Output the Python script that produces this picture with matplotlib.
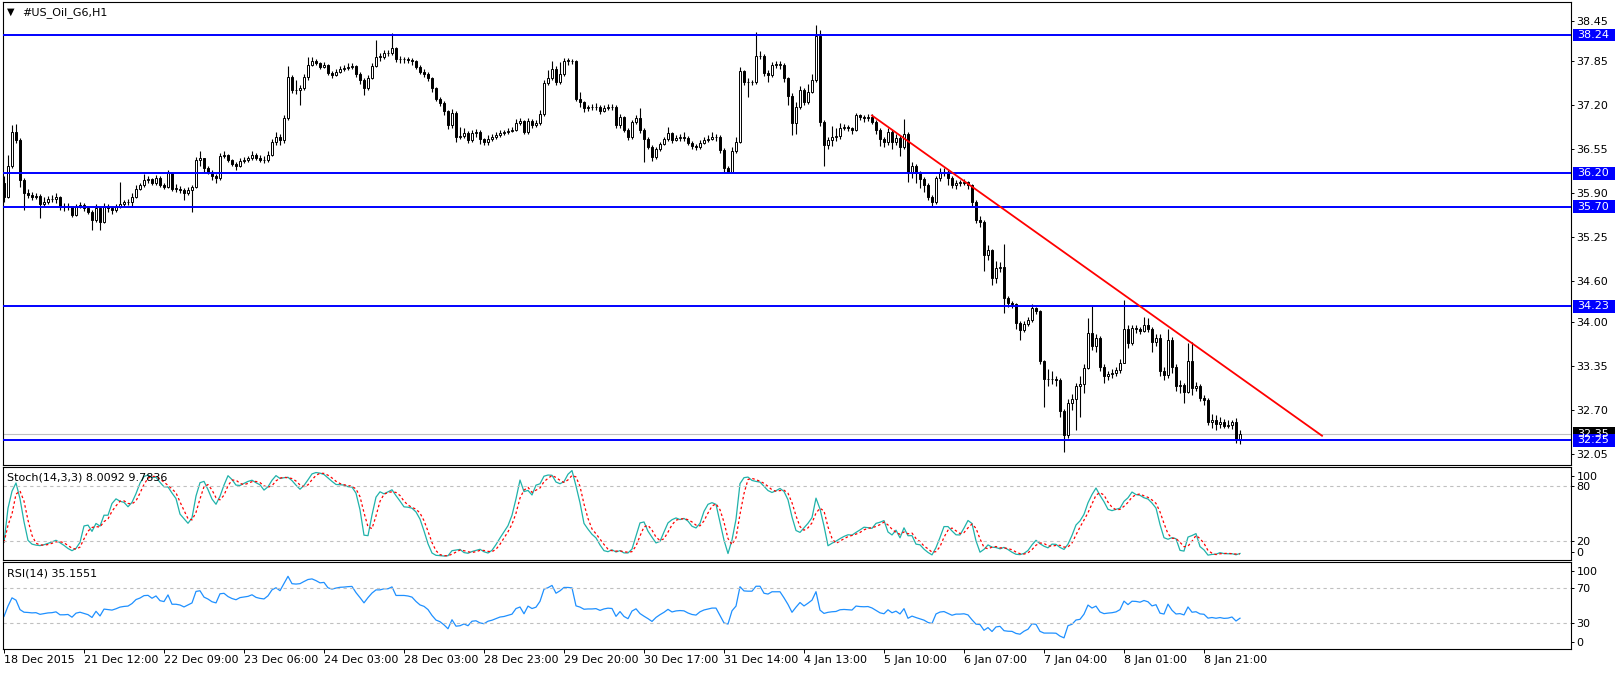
import numpy as np
import pandas as pd
import matplotlib
matplotlib.use('Agg')
import matplotlib.pyplot as plt
from matplotlib.patches import Rectangle
from matplotlib.transforms import blended_transform_factory

# ---- data (hourly bars) ----
first_open = 36.05
close = [
    35.85, 36.30, 36.81, 36.69, 36.10, 35.90, 35.88, 35.85, 35.86, 35.75,
    35.78, 35.81, 35.82, 35.85, 35.70, 35.70, 35.71, 35.58, 35.70, 35.73,
    35.68, 35.63, 35.51, 35.68, 35.48, 35.70, 35.68, 35.66, 35.70, 35.75,
    35.77, 35.78, 35.85, 35.97, 36.02, 36.10, 36.11, 36.05, 36.12, 36.02,
    36.00, 36.20, 35.97, 35.97, 35.95, 35.90, 35.95, 36.00, 36.39, 36.42,
    36.27, 36.22, 36.15, 36.12, 36.45, 36.47, 36.39, 36.34, 36.31, 36.38,
    36.40, 36.42, 36.47, 36.42, 36.40, 36.39, 36.47, 36.66, 36.74, 36.69,
    37.01, 37.62, 37.43, 37.42, 37.45, 37.62, 37.80, 37.86, 37.82, 37.77,
    37.80, 37.68, 37.65, 37.70, 37.74, 37.75, 37.77, 37.78, 37.67, 37.57,
    37.45, 37.61, 37.78, 37.92, 37.92, 37.97, 37.97, 38.05, 37.88, 37.88,
    37.88, 37.87, 37.85, 37.77, 37.70, 37.67, 37.60, 37.45, 37.30, 37.24,
    37.11, 36.91, 37.09, 36.74, 36.75, 36.79, 36.69, 36.79, 36.80, 36.70,
    36.66, 36.71, 36.73, 36.76, 36.79, 36.80, 36.82, 36.84, 36.94, 36.97,
    36.81, 36.97, 36.91, 36.94, 37.08, 37.53, 37.61, 37.74, 37.55, 37.67,
    37.86, 37.86, 37.85, 37.30, 37.25, 37.16, 37.17, 37.17, 37.18, 37.12,
    37.16, 37.18, 37.17, 36.91, 37.03, 36.84, 36.74, 36.95, 37.02, 36.83,
    36.71, 36.59, 36.44, 36.55, 36.63, 36.70, 36.79, 36.69, 36.72, 36.73,
    36.72, 36.65, 36.60, 36.58, 36.65, 36.69, 36.71, 36.73, 36.73, 36.54,
    36.27, 36.22, 36.52, 36.66, 37.71, 37.55, 37.54, 37.54, 37.93, 37.93,
    37.68, 37.65, 37.80, 37.80, 37.80, 37.60, 37.34, 36.94, 37.18, 37.43,
    37.25, 37.40, 37.58, 38.22, 36.95, 36.61, 36.69, 36.73, 36.75, 36.86,
    36.88, 36.86, 36.84, 37.06, 37.03, 37.02, 37.03, 36.96, 36.84, 36.71,
    36.66, 36.81, 36.66, 36.72, 36.58, 36.78, 36.21, 36.30, 36.20, 36.11,
    36.02, 35.85, 35.77, 36.12, 36.20, 36.22, 36.12, 36.02, 36.06, 36.06,
    36.07, 36.02, 35.78, 35.51, 35.48, 34.99, 35.07, 34.65, 34.80, 34.82,
    34.35, 34.28, 34.26, 33.99, 33.88, 33.97, 34.03, 34.20, 34.16, 33.42,
    33.16, 33.16, 33.16, 33.14, 32.69, 32.33, 32.80, 32.86, 33.05, 33.08,
    33.32, 33.84, 33.64, 33.76, 33.34, 33.20, 33.23, 33.25, 33.29, 33.40,
    33.89, 33.69, 33.91, 33.90, 33.86, 33.96, 33.90, 33.70, 33.76, 33.28,
    33.22, 33.74, 33.34, 33.05, 33.07, 32.97, 33.42, 33.02, 33.05, 32.88,
    32.85, 32.53, 32.56, 32.50, 32.53, 32.47, 32.48, 32.52, 32.25, 32.35,
]
high = [
    36.15, 36.47, 36.91, 36.93, 36.72, 36.12, 35.97, 35.92, 35.90, 35.89,
    35.84, 35.86, 35.87, 35.90, 35.86, 35.76, 35.76, 35.72, 35.74, 35.78,
    35.76, 35.72, 35.66, 35.74, 35.70, 35.76, 35.74, 35.72, 35.75, 36.07,
    35.80, 35.82, 35.90, 36.02, 36.06, 36.18, 36.16, 36.13, 36.17, 36.16,
    36.05, 36.24, 36.21, 36.04, 36.01, 35.98, 35.99, 36.03, 36.44, 36.52,
    36.43, 36.30, 36.24, 36.18, 36.50, 36.52, 36.48, 36.41, 36.37, 36.42,
    36.44, 36.45, 36.52, 36.50, 36.46, 36.45, 36.52, 36.70, 36.80, 36.77,
    37.06, 37.78, 37.65, 37.58, 37.50, 37.66, 37.92, 37.92, 37.89, 37.84,
    37.84, 37.81, 37.71, 37.74, 37.78, 37.79, 37.82, 37.83, 37.80, 37.69,
    37.60, 37.65, 37.82, 38.17, 37.98, 38.02, 38.02, 38.27, 38.06, 37.93,
    37.92, 37.92, 37.90, 37.87, 37.79, 37.73, 37.69, 37.62, 37.47, 37.33,
    37.26, 37.13, 37.14, 37.12, 36.88, 36.86, 36.82, 36.84, 36.85, 36.83,
    36.72, 36.76, 36.77, 36.80, 36.83, 36.84, 36.86, 36.88, 37.00, 37.02,
    36.99, 37.01, 37.00, 36.98, 37.13, 37.58, 37.72, 37.85, 37.78, 37.84,
    37.90, 37.90, 37.89, 37.87, 37.40, 37.27, 37.21, 37.22, 37.23, 37.20,
    37.20, 37.22, 37.22, 37.20, 37.07, 37.05, 36.87, 36.99, 37.06, 37.16,
    36.86, 36.73, 36.62, 36.58, 36.66, 36.74, 36.88, 36.81, 36.76, 36.77,
    36.81, 36.75, 36.68, 36.63, 36.69, 36.73, 36.76, 36.80, 36.77, 36.76,
    36.57, 36.31, 36.58, 36.73, 37.77, 37.72, 37.60, 37.58, 38.28, 38.00,
    37.96, 37.72, 37.84, 37.86, 37.85, 37.82, 37.62, 37.38, 37.25, 37.49,
    37.46, 37.52, 37.66, 38.39, 38.32, 36.98, 36.74, 36.90, 36.86, 36.94,
    36.92, 36.91, 36.88, 37.09, 37.08, 37.06, 37.07, 37.07, 36.98, 36.86,
    36.74, 36.86, 36.84, 36.78, 36.76, 37.00, 36.80, 36.36, 36.33, 36.23,
    36.14, 36.05, 35.88, 36.16, 36.28, 36.28, 36.25, 36.15, 36.10, 36.10,
    36.11, 36.09, 36.04, 35.80, 35.56, 35.50, 35.14, 35.08, 34.90, 34.88,
    35.15, 34.38, 34.31, 34.28, 34.02, 34.02, 34.08, 34.26, 34.22, 34.18,
    33.44, 33.30, 33.28, 33.20, 33.18, 32.72, 32.86, 32.94, 33.10, 33.20,
    33.38, 34.06, 34.24, 33.82, 33.80, 33.38, 33.28, 33.30, 33.34, 33.46,
    34.33, 33.95, 33.96, 33.96, 33.93, 34.08, 34.06, 33.92, 33.82, 33.82,
    33.34, 33.89, 33.78, 33.38, 33.15, 33.10, 33.69, 33.70, 33.12, 33.09,
    32.92, 32.88, 32.64, 32.62, 32.60, 32.57, 32.56, 32.56, 32.58, 32.40,
]
low = [
    35.78, 35.83, 36.28, 36.64, 36.00, 35.66, 35.83, 35.80, 35.82, 35.53,
    35.72, 35.74, 35.77, 35.76, 35.66, 35.64, 35.66, 35.55, 35.56, 35.68,
    35.64, 35.60, 35.36, 35.48, 35.36, 35.46, 35.62, 35.60, 35.63, 35.68,
    35.72, 35.73, 35.70, 35.83, 35.95, 36.00, 36.06, 36.02, 36.03, 35.99,
    35.96, 35.98, 35.93, 35.92, 35.90, 35.80, 35.87, 35.63, 35.98, 36.30,
    36.22, 36.18, 36.10, 36.05, 36.10, 36.42, 36.36, 36.30, 36.25, 36.29,
    36.35, 36.37, 36.40, 36.39, 36.36, 36.35, 36.37, 36.45, 36.62, 36.62,
    36.64, 36.98, 37.38, 37.37, 37.21, 37.42, 37.58, 37.78, 37.79, 37.74,
    37.75, 37.65, 37.61, 37.63, 37.68, 37.71, 37.72, 37.74, 37.62, 37.52,
    37.36, 37.43, 37.59, 37.76, 37.86, 37.88, 37.93, 37.95, 37.84, 37.83,
    37.83, 37.82, 37.80, 37.74, 37.66, 37.62, 37.56, 37.40, 37.26, 37.19,
    37.06, 36.85, 36.86, 36.66, 36.70, 36.72, 36.64, 36.66, 36.74, 36.63,
    36.61, 36.62, 36.68, 36.70, 36.74, 36.76, 36.78, 36.80, 36.82, 36.91,
    36.77, 36.78, 36.87, 36.88, 36.91, 37.05, 37.50, 37.58, 37.50, 37.52,
    37.64, 37.80, 37.81, 37.26, 37.18, 37.10, 37.12, 37.13, 37.13, 37.08,
    37.10, 37.13, 37.13, 36.87, 36.87, 36.80, 36.69, 36.70, 36.92, 36.79,
    36.37, 36.55, 36.38, 36.41, 36.52, 36.61, 36.68, 36.64, 36.67, 36.68,
    36.67, 36.61, 36.56, 36.54, 36.56, 36.63, 36.66, 36.69, 36.68, 36.50,
    36.22, 36.20, 36.20, 36.49, 36.64, 37.50, 37.33, 37.50, 37.52, 37.88,
    37.63, 37.55, 37.62, 37.75, 37.74, 37.55, 37.20, 36.76, 36.78, 37.15,
    37.20, 37.22, 37.38, 37.55, 36.90, 36.30, 36.55, 36.60, 36.68, 36.70,
    36.83, 36.82, 36.78, 36.82, 36.98, 36.96, 36.97, 36.92, 36.77, 36.60,
    36.58, 36.62, 36.55, 36.62, 36.45, 36.55, 36.07, 36.13, 36.05, 35.98,
    35.92, 35.80, 35.72, 35.75, 36.08, 36.16, 36.02, 35.98, 35.97, 36.01,
    36.02, 35.97, 35.72, 35.46, 35.40, 34.75, 34.92, 34.55, 34.58, 34.74,
    34.13, 34.22, 34.20, 33.89, 33.73, 33.85, 33.94, 34.00, 34.12, 33.38,
    32.75, 33.05, 33.08, 33.05, 32.60, 32.08, 32.28, 32.70, 32.41, 32.60,
    32.95, 33.30, 33.58, 33.55, 33.28, 33.10, 33.15, 33.18, 33.20, 33.25,
    33.40, 33.62, 33.66, 33.84, 33.82, 33.85, 33.85, 33.55, 33.65, 33.20,
    33.15, 33.18, 33.25, 32.98, 32.95, 32.80, 32.95, 32.92, 32.98, 32.84,
    32.78, 32.48, 32.44, 32.40, 32.44, 32.43, 32.43, 32.42, 32.22, 32.20,
]

levels = [38.24, 36.20, 35.70, 34.23, 32.25]
last_price = 32.35
trend_x = [217, 329.5]
trend_y = [37.05, 32.32]

# averages carried in from the bars before the visible window (RSI ~37 at the left edge)
rsi_seed_gain = 0.06
rsi_seed_loss = 0.10

price_ticks = [38.45, 37.85, 37.20, 36.55, 35.90, 35.25, 34.60, 34.00, 33.35, 32.70, 32.05]
time_bars = [0, 20, 40, 60, 80, 100, 120, 140, 160, 180, 200, 220, 240, 260, 280, 300]
time_labels = ['18 Dec 2015', '21 Dec 12:00', '22 Dec 09:00', '23 Dec 06:00', '24 Dec 03:00',
               '28 Dec 03:00', '28 Dec 23:00', '29 Dec 20:00', '30 Dec 17:00', '31 Dec 14:00',
               '4 Jan 13:00', '5 Jan 10:00', '6 Jan 07:00', '7 Jan 04:00', '8 Jan 01:00', '8 Jan 21:00']

# ---- indicators from the bars ----
c = pd.Series(close)
h = pd.Series(high)
l = pd.Series(low)
hh = h.rolling(14, min_periods=1).max()
ll = l.rolling(14, min_periods=1).min()
stoch_k = 100 * (c - ll).rolling(3, min_periods=1).sum() / (hh - ll).rolling(3, min_periods=1).sum()
stoch_d = stoch_k.rolling(3, min_periods=1).mean()

# Wilder RSI(14)
delta = c.diff().fillna(0).to_numpy()
avg_g, avg_l = rsi_seed_gain, rsi_seed_loss
rsi = []
for d in delta:
    avg_g = (avg_g * 13 + max(d, 0)) / 14
    avg_l = (avg_l * 13 + max(-d, 0)) / 14
    rsi.append(100 - 100 / (1 + avg_g / avg_l))

# ---- figure ----
W, H = 1617, 673
fig = plt.figure(figsize=(W / 100, H / 100), dpi=100)
fig.patch.set_facecolor('white')


def box(left, top, right, bottom):
    return [left / W, 1 - bottom / H, (right - left) / W, (bottom - top) / H]


ax = fig.add_axes(box(3, 2, 1571, 465))
ax_st = fig.add_axes(box(3, 467, 1571, 560), sharex=ax)
ax_rsi = fig.add_axes(box(3, 562, 1571, 649), sharex=ax)

# candles
x = np.arange(len(close))
cl = np.array(close)
opn = np.r_[first_open, cl[:-1]]
hi = np.maximum(np.array(high), np.maximum(opn, cl))
lo = np.minimum(np.array(low), np.minimum(opn, cl))
up = cl >= opn
ax.vlines(x, lo, hi, color='black', lw=0.8, zorder=2)
body = np.maximum(np.abs(cl - opn), 0.004)
ax.bar(x, body, bottom=np.minimum(opn, cl), width=0.72,
       color=np.where(up, 'white', 'black'), edgecolor='black', linewidth=0.7, zorder=3)

for lv in levels:
    ax.axhline(lv, color='#0000FF', lw=1.4, zorder=4)
ax.axhline(last_price, color='#C0C0C0', lw=0.8, zorder=1)
ax.plot(trend_x, trend_y, color='#FF0000', lw=1.3, zorder=5)

ax.set_xlim(-0.25, 391.75)
ax.set_ylim(31.888, 38.727)
ax.yaxis.tick_right()
ax.set_yticks(price_ticks)
ax.set_yticklabels([f'{t:.2f}' for t in price_ticks])
ax.tick_params(axis='y', labelsize=8, length=2.5, pad=1.5, width=0.7)
ax.tick_params(axis='x', bottom=False, labelbottom=False)

# price boxes on the right axis
trans = blended_transform_factory(ax.transAxes, ax.transData)
for val, col in [(last_price, 'black')] + [(lv, '#0000FF') for lv in levels]:
    ax.add_patch(Rectangle((1.0013, val - 0.095), 0.0268, 0.19, transform=trans,
                           facecolor=col, edgecolor='none', clip_on=False, zorder=6))
    ax.text(1.0038, val, f'{val:.2f}', transform=trans, color='white', fontsize=8,
            va='center', ha='left', zorder=7, clip_on=False)

# stochastic
ax_st.plot(x, stoch_k, color='#20B2AA', lw=0.9)
ax_st.plot(x, stoch_d, color='#FF0000', lw=0.9, linestyle=(0, (2, 2)))
for lv in [20, 80]:
    ax_st.axhline(lv, color='#C0C0C0', lw=0.8, linestyle=(0, (3, 3)))
ax_st.set_ylim(0, 100)
ax_st.yaxis.tick_right()
ax_st.set_yticks([9, 20, 80, 90.5])
ax_st.set_yticklabels(['0', '20', '80', '100'])
ax_st.tick_params(axis='y', labelsize=8, length=2.5, pad=1.5, width=0.7)
ax_st.tick_params(axis='x', bottom=False, labelbottom=False)

# RSI
ax_rsi.plot(x, rsi, color='#1E90FF', lw=0.9)
for lv in [30, 70]:
    ax_rsi.axhline(lv, color='#C0C0C0', lw=0.8, linestyle=(0, (3, 3)))
ax_rsi.set_ylim(0, 100)
ax_rsi.yaxis.tick_right()
ax_rsi.set_yticks([8, 30, 70, 90])
ax_rsi.set_yticklabels(['0', '30', '70', '100'])
ax_rsi.tick_params(axis='y', labelsize=8, length=2.5, pad=1.5, width=0.7)
ax_rsi.set_xticks(time_bars)
ax_rsi.set_xticklabels(time_labels, ha='left')
ax_rsi.tick_params(axis='x', labelsize=8, length=3, pad=1.5, width=0.7)

for a in (ax, ax_st, ax_rsi):
    for s in a.spines.values():
        s.set_color('black')
        s.set_linewidth(0.8)

fig.text(7 / W, 1 - 12 / H, '\u25BC', fontsize=7, va='center', ha='left')
fig.text(22 / W, 1 - 13 / H, '#US_Oil_G6,H1', fontsize=8, va='center', ha='left')
fig.text(7 / W, 1 - 478 / H, 'Stoch(14,3,3) 8.0092 9.7836', fontsize=8, va='center', ha='left')
fig.text(7 / W, 1 - 574 / H, 'RSI(14) 35.1551', fontsize=8, va='center', ha='left')

fig.savefig('out.png', dpi=100)
